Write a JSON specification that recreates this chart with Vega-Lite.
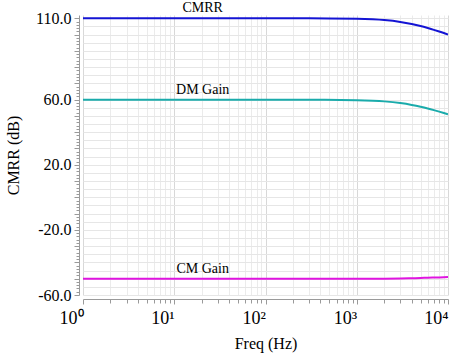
{
  "$schema": "https://vega.github.io/schema/vega-lite/v6.json",
  "width": 365,
  "height": 280,
  "autosize": {"type": "none"},
  "padding": {"left": 83, "top": 15, "right": 3, "bottom": 60},
  "background": "white",
  "config": {
    "view": {"stroke": null},
    "font": "Liberation Serif, Times New Roman, serif",
    "axis": {"labelFont": "Liberation Serif, Times New Roman, serif", "titleFont": "Liberation Serif, Times New Roman, serif", "labelColor": "black", "titleColor": "black", "titleFontWeight": "normal"},
    "text": {"font": "Liberation Serif"}
  },
  "datasets": {
    "curves": [
      {"freq": 1, "series": "CMRR", "value": 110}, {"freq": 10, "series": "CMRR", "value": 110}, {"freq": 100, "series": "CMRR", "value": 110}, {"freq": 300, "series": "CMRR", "value": 109.95}, {"freq": 1000, "series": "CMRR", "value": 109.7}, {"freq": 1500, "series": "CMRR", "value": 109.35}, {"freq": 2000, "series": "CMRR", "value": 108.89}, {"freq": 3000, "series": "CMRR", "value": 107.75}, {"freq": 4000, "series": "CMRR", "value": 106.46}, {"freq": 5000, "series": "CMRR", "value": 105.19}, {"freq": 6000, "series": "CMRR", "value": 103.97}, {"freq": 7000, "series": "CMRR", "value": 102.87}, {"freq": 8000, "series": "CMRR", "value": 101.85}, {"freq": 9000, "series": "CMRR", "value": 100.9}, {"freq": 10000, "series": "CMRR", "value": 100.0},
      {"freq": 1, "series": "DM Gain", "value": 60}, {"freq": 10, "series": "DM Gain", "value": 60}, {"freq": 100, "series": "DM Gain", "value": 60}, {"freq": 300, "series": "DM Gain", "value": 59.97}, {"freq": 1000, "series": "DM Gain", "value": 59.7}, {"freq": 1500, "series": "DM Gain", "value": 59.37}, {"freq": 2000, "series": "DM Gain", "value": 58.94}, {"freq": 3000, "series": "DM Gain", "value": 57.9}, {"freq": 4000, "series": "DM Gain", "value": 56.76}, {"freq": 5000, "series": "DM Gain", "value": 55.64}, {"freq": 6000, "series": "DM Gain", "value": 54.57}, {"freq": 7000, "series": "DM Gain", "value": 53.57}, {"freq": 8000, "series": "DM Gain", "value": 52.65}, {"freq": 9000, "series": "DM Gain", "value": 51.8}, {"freq": 10000, "series": "DM Gain", "value": 51.0},
      {"freq": 1, "series": "CM Gain", "value": -50}, {"freq": 10, "series": "CM Gain", "value": -50}, {"freq": 100, "series": "CM Gain", "value": -50}, {"freq": 1000, "series": "CM Gain", "value": -49.99}, {"freq": 2000, "series": "CM Gain", "value": -49.95}, {"freq": 3000, "series": "CM Gain", "value": -49.85}, {"freq": 4000, "series": "CM Gain", "value": -49.7}, {"freq": 5000, "series": "CM Gain", "value": -49.55}, {"freq": 6000, "series": "CM Gain", "value": -49.4}, {"freq": 7000, "series": "CM Gain", "value": -49.3}, {"freq": 8000, "series": "CM Gain", "value": -49.2}, {"freq": 9000, "series": "CM Gain", "value": -49.1}, {"freq": 10000, "series": "CM Gain", "value": -49.0}
    ],
    "labels": [
      {"freq": 20.5, "value": 110, "label": "CMRR"},
      {"freq": 20.5, "value": 60, "label": "DM Gain"},
      {"freq": 20.5, "value": -50, "label": "CM Gain"}
    ]
  },
  "encoding": {
    "x": {
      "field": "freq", "type": "quantitative",
      "scale": {"type": "log", "domain": [1, 10000], "nice": false},
      "axis": {
        "title": "Freq (Hz)",
        "titleFont": "Liberation Serif, Times New Roman, serif", "titleFontSize": 16, "titleFontWeight": "normal", "titleColor": "black", "titlePadding": 8,
        "values": [1,2,3,4,5,6,7,8,9,10,20,30,40,50,60,70,80,90,100,200,300,400,500,600,700,800,900,1000,2000,3000,4000,5000,6000,7000,8000,9000,10000],
        "labelExpr": "abs(log(datum.value)/LN10 - round(log(datum.value)/LN10)) < 0.000001 ? '10' + ['⁰','¹','²','³','⁴'][round(log(datum.value)/LN10)] : ''",
        "labelFont": "Liberation Serif, Times New Roman, serif", "labelFontSize": 18, "labelColor": "black", "labelOverlap": false, "labelFlush": false, "labelPadding": 5,
        "labelAlign": "right", "labelDx": 5,
        "offset": 4,
        "domainColor": "#9a9a9a", "domainWidth": 1,
        "tickColor": "#9a9a9a",
        "tickSize": {"condition": {"test": "abs(log(datum.value)/LN10 - round(log(datum.value)/LN10)) < 0.000001", "value": 5}, "value": 4},
        "grid": true,
        "gridColor": {"condition": {"test": "abs(log(datum.value)/LN10 - round(log(datum.value)/LN10)) < 0.000001", "value": "#d8d8d8"}, "value": "#ebebeb"},
        "gridWidth": 1
      }
    },
    "y": {
      "field": "value", "type": "quantitative",
      "scale": {"domain": [-60, 112], "nice": false, "zero": false},
      "axis": {
        "title": "CMRR (dB)",
        "titleFont": "Liberation Serif, Times New Roman, serif", "titleFontSize": 16, "titleFontWeight": "normal", "titleColor": "black", "titlePadding": 14,
        "values": [-60,-58,-56,-55,-54,-52,-50,-48,-46,-45,-44,-42,-40,-38,-36,-35,-34,-32,-30,-28,-26,-25,-24,-22,-20,-18,-16,-15,-14,-12,-10,-8,-6,-5,-4,-2,0,2,4,5,6,8,10,12,14,15,16,18,20,22,24,25,26,28,30,32,34,35,36,38,40,42,44,45,46,48,50,52,54,55,56,58,60,62,64,65,66,68,70,72,74,75,76,78,80,82,84,85,86,88,90,92,94,95,96,98,100,102,104,105,106,108,110],
        "labelExpr": "(datum.value === -60 || datum.value === -20 || datum.value === 20 || datum.value === 60 || datum.value === 110) ? (datum.value < 0 ? '-' : '') + format(abs(datum.value), '.1f') : ''",
        "labelFont": "Liberation Serif, Times New Roman, serif", "labelFontSize": 16, "labelColor": "black", "labelOverlap": false, "labelFlush": false, "labelPadding": 3,
        "offset": 4,
        "domainColor": "#9a9a9a", "domainWidth": 1,
        "tickColor": "#9a9a9a",
        "tickOpacity": {"condition": {"test": "datum.value % 2 === 0", "value": 1}, "value": 0},
        "tickSize": {"condition": {"test": "datum.value % 10 === 0", "value": 5}, "value": 3},
        "grid": true,
        "gridColor": "#e6e6e6",
        "gridOpacity": {"condition": {"test": "datum.value % 5 === 0", "value": 1}, "value": 0},
        "gridWidth": 1
      }
    }
  },
  "layer": [
    {
      "data": {"name": "curves"},
      "mark": {"type": "line", "strokeWidth": 2, "interpolate": "monotone", "clip": true},
      "encoding": {
        "color": {
          "field": "series", "type": "nominal",
          "scale": {"domain": ["CMRR", "DM Gain", "CM Gain"], "range": ["#1414d4", "#1aabab", "#e014e0"]},
          "legend": null
        }
      }
    },
    {
      "data": {"name": "labels"},
      "mark": {"type": "text", "font": "Liberation Serif", "fontSize": 14, "baseline": "bottom", "align": "center", "dy": -3, "color": "black"},
      "encoding": {
        "text": {"field": "label"}
      }
    }
  ]
}
